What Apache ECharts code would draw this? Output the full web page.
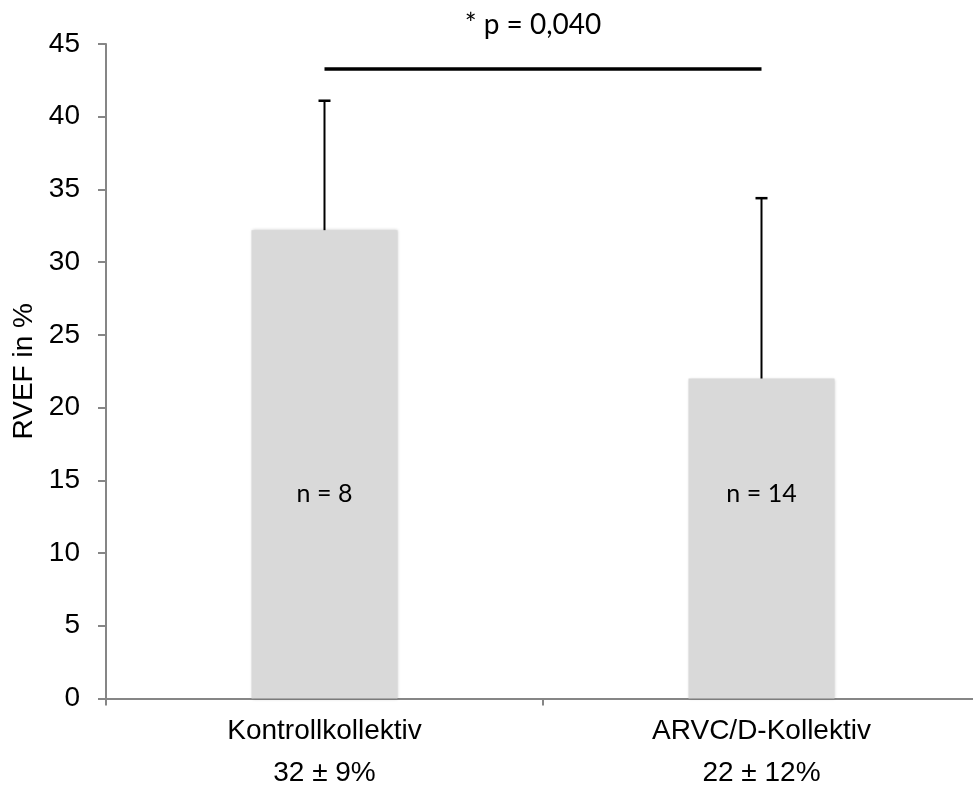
<!DOCTYPE html>
<html>
<head>
<meta charset="utf-8">
<script src="https://cdn.jsdelivr.net/npm/echarts@6/dist/echarts.min.js"></script>
<style>
html,body{margin:0;padding:0;background:#fff;}
#chart{width:973px;height:787px;}
</style>
</head>
<body>
<div id="chart"></div>
<script>
const categories = ['Kontrollkollektiv', 'ARVC/D-Kollektiv'];
const summaryLabels = ['32 ± 9%', '22 ± 12%'];
const means = [32.2, 22.0];
const sdUpper = [41.1, 34.4];
const nLabels = ['n = 8', 'n = 14'];
const yTicks = { min: 0, max: 45, interval: 5 };
const sigValue = 43.3;
const sigText = '* p = 0,040';

const chart = echarts.init(document.getElementById('chart'));
const axisGrey = '#868686';

chart.setOption({
  animation: false,
  backgroundColor: '#ffffff',
  grid: { left: 106, top: 44, right: -7, bottom: 88.5, containLabel: false, outerBoundsMode: 'none' },
  graphic: [{
    type: 'text',
    x: 533, y: 25,
    style: {
      text: sigText,
      font: '28px Lato',
      fill: '#000',
      textAlign: 'center',
      textVerticalAlign: 'middle'
    }
  }],
  xAxis: {
    type: 'category',
    data: categories,
    axisLine: { lineStyle: { color: axisGrey, width: 2 } },
    axisTick: { show: true, length: 7, lineStyle: { color: axisGrey, width: 2 } },
    axisLabel: {
      margin: 12,
      formatter: function (v, i) {
        return '{a|' + v + '}\n{a|' + summaryLabels[i] + '}';
      },
      rich: {
        a: { fontFamily: 'Liberation Sans', fontSize: 28, color: '#000', lineHeight: 42 }
      }
    },
    splitLine: { show: false }
  },
  yAxis: {
    type: 'value',
    min: yTicks.min, max: yTicks.max, interval: yTicks.interval,
    name: 'RVEF in %',
    nameLocation: 'middle',
    nameGap: 68,
    nameRotate: 90,
    nameTextStyle: { fontFamily: 'Liberation Sans', fontSize: 28, color: '#000' },
    axisLine: { show: true, lineStyle: { color: axisGrey, width: 2 } },
    axisTick: { show: true, length: 8, lineStyle: { color: axisGrey, width: 2 } },
    axisLabel: { margin: 26, fontFamily: 'Liberation Sans', fontSize: 28, color: '#000' },
    splitLine: { show: false }
  },
  series: [
    {
      type: 'bar',
      data: means,
      barWidth: 146,
      itemStyle: {
        color: '#d9d9d9',
        shadowBlur: 3,
        shadowColor: 'rgba(0,0,0,0.22)'
      },
      label: {
        show: true,
        position: 'insideBottom',
        distance: 192,
        formatter: function (p) { return nLabels[p.dataIndex]; },
        fontFamily: 'Lato',
        fontSize: 25,
        color: '#000'
      },
      markLine: {
        silent: true,
        symbol: ['none', 'none'],
        label: { show: false },
        lineStyle: { color: '#000', width: 3.5, type: 'solid' },
        data: [[{ coord: [0, sigValue] }, { coord: [1, sigValue] }]]
      },
      z: 2
    },
    {
      type: 'custom',
      data: means.map((m, i) => [i, m, sdUpper[i]]),
      renderItem: function (params, api) {
        const x = api.value(0);
        const base = api.coord([x, api.value(1)]);
        const top = api.coord([x, api.value(2)]);
        const half = 6;
        const style = { stroke: '#000', lineWidth: 2, fill: null };
        return {
          type: 'group',
          children: [
            { type: 'line', shape: { x1: base[0], y1: base[1], x2: top[0], y2: top[1] }, style: style },
            { type: 'line', shape: { x1: top[0] - half, y1: top[1], x2: top[0] + half, y2: top[1] }, style: { stroke: '#000', lineWidth: 2.5 } }
          ]
        };
      },
      z: 3
    }
  ]
});
</script>
</body>
</html>
